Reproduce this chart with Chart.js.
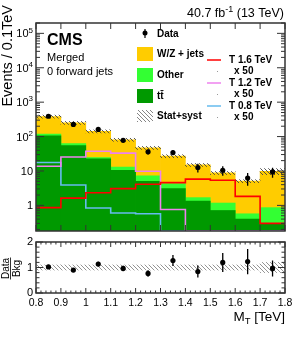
<!DOCTYPE html>
<html>
<head>
<meta charset="utf-8">
<script src="https://cdn.jsdelivr.net/npm/chart.js@4/dist/chart.umd.min.js"></script>
<style>
  body { margin: 0; background: #fff; }
  #wrap { position: relative; width: 299px; height: 337px; }
  canvas { position: absolute; left: 0; }
</style>
</head>
<body>
<div id="wrap">
  <canvas id="main" width="299" height="240" style="top:0;width:299px;height:240px"></canvas>
  <canvas id="ratio" width="299" height="101" style="top:236px;width:299px;height:101px"></canvas>
</div>
<script>
// M_T histogram, merged category, 0 forward jets
// values are events per 0.1 TeV

const binEdges = [0.8, 0.9, 1.0, 1.1, 1.2, 1.3, 1.4, 1.5, 1.6, 1.7, 1.8];
const ttbar = [105, 55, 22.4, 10.5, 5.0, 3.07, 1.33, 0.71, 0.40, 0.30];
const other = [13, 8, 2.1, 2.5, 2.2, 1.23, 0.35, 0.46, 0.17, 0.56];
const wzJets = [264, 187, 117.5, 68, 39.8, 22.7, 13.3, 7.6, 4.5, 8.9];
const dataCounts = [390, 225, 161, 78, 36, 34.4, 12.6, 10.5, 6.25, 9.4];
const bkgRelUnc = [0.1, 0.1, 0.1, 0.1, 0.1, 0.1, 0.1, 0.1, 0.1, 0.2];

// signals, already scaled x50 (0.18 = sits on the bottom of the frame)
const sigT16 = [0.86, 1.63, 2.34, 3.07, 4.1, 4.6, 5.8, 5.4, 1.83, 0.30];
const sigT12 = [13.7, 25.6, 37.5, 33, 9.8, 0.76, 0.18, 0.18, 0.18, 0.18];
const sigT08 = [17.6, 3.9, 0.84, 0.6, 0.57, 0.18, 0.18, 0.18, 0.18, 0.18];

const xTickLabels = ['0.8', '0.9', '1', '1.1', '1.2', '1.3', '1.4', '1.5', '1.6', '1.7', '1.8'];
const yDecades = [0, 1, 2, 3, 4, 5];
const ratioTicks = [0, 1, 2];

const Y_MIN = 0.18, Y_MAX = 2.0e5;

const colors = {
    wz: '#ffcc00',
    other: '#33ff33',
    tt: '#009900',
    t16: '#ff0000',
    t12: '#ee82ee',
    t08: '#66bbee',
    frame: '#333333'
};

const centers = binEdges.slice(0, -1).map((e, i) => (e + binEdges[i + 1]) / 2);
const stackTt = ttbar.slice();
const stackOther = ttbar.map((v, i) => v + other[i]);
const totalBkg = stackOther.map((v, i) => v + wzJets[i]);
const ratio = dataCounts.map((d, i) => d / totalBkg[i]);
const ratioErr = dataCounts.map((d, i) => Math.sqrt(d) / totalBkg[i]);

function hatch(color) {
    const c = document.createElement('canvas');
    c.width = 4; c.height = 4;
    const g = c.getContext('2d');
    g.strokeStyle = color;
    g.lineWidth = 0.9;
    g.beginPath();
    g.moveTo(0, 0); g.lineTo(4, 4);
    g.moveTo(-1, 3); g.lineTo(1, 5);
    g.moveTo(3, -1); g.lineTo(5, 1);
    g.stroke();
    return g.createPattern(c, 'repeat');
}

function stepData(vals) {
    return binEdges.map((e, i) => ({ x: e, y: vals[Math.min(i, vals.length - 1)] }));
}

// text with super/subscript pieces: [[text, size, dy], ...]
function drawPieces(ctx, pieces, x, y, align, bold) {
    const w = pieces.map(p => {
        ctx.font = (bold ? 'bold ' : '') + p[1] + 'px "Liberation Sans", Arial, sans-serif';
        return ctx.measureText(p[0]).width;
    });
    const total = w.reduce((a, b) => a + b, 0);
    let cx = align === 'right' ? x - total : (align === 'center' ? x - total / 2 : x);
    ctx.textAlign = 'left';
    pieces.forEach((p, i) => {
        ctx.font = (bold ? 'bold ' : '') + p[1] + 'px "Liberation Sans", Arial, sans-serif';
        ctx.fillText(p[0], cx, y + (p[2] || 0));
        cx += w[i];
    });
}

function tickLines(ctx, list) {
    ctx.beginPath();
    list.forEach(t => { ctx.moveTo(t[0], t[1]); ctx.lineTo(t[2], t[3]); });
    ctx.stroke();
}

const mainDecor = {
    id: 'mainDecor',
    afterDatasetsDraw(chart) {
        const ctx = chart.ctx, xs = chart.scales.x, ys = chart.scales.y;
        ctx.save();
        ctx.strokeStyle = '#000';
        ctx.lineWidth = 1.3;
        ctx.beginPath();
        centers.forEach((c, i) => {
            const d = dataCounts[i], e = Math.sqrt(d);
            const px = xs.getPixelForValue(c);
            ctx.moveTo(px, ys.getPixelForValue(Math.max(d - e, Y_MIN)));
            ctx.lineTo(px, ys.getPixelForValue(d + e));
        });
        ctx.stroke();
        ctx.restore();
    },
    afterDraw(chart) {
        const ctx = chart.ctx, a = chart.chartArea;
        const xs = chart.scales.x, ys = chart.scales.y;
        ctx.save();
        ctx.strokeStyle = colors.frame;
        ctx.lineWidth = 1;
        const ticks = [];
        binEdges.forEach(v => {
            const px = xs.getPixelForValue(v);
            ticks.push([px, a.bottom, px, a.bottom - 6], [px, a.top, px, a.top + 6]);
        });
        for (let d = -1; d <= 5; d++) {
            for (let m = 1; m <= 9; m++) {
                const v = m * Math.pow(10, d);
                if (v < Y_MIN || v > Y_MAX) continue;
                const py = ys.getPixelForValue(v);
                const len = m === 1 ? 8 : 4;
                ticks.push([a.left, py, a.left + len, py], [a.right, py, a.right - len, py]);
            }
        }
        tickLines(ctx, ticks);
        ctx.lineWidth = 1.5;
        ctx.strokeRect(a.left, a.top, a.right - a.left, a.bottom - a.top);

        // y tick labels
        ctx.fillStyle = '#000';
        ctx.textBaseline = 'middle';
        yDecades.forEach(d => {
            const py = ys.getPixelForValue(Math.pow(10, d));
            if (d === 0) drawPieces(ctx, [['1', 11]], 33, py + 1, 'right');
            else if (d === 1) drawPieces(ctx, [['10', 11]], 33, py + 1, 'right');
            else drawPieces(ctx, [['10', 11], [String(d), 8, -4]], 33, py + 1, 'right');
        });

        // y title
        ctx.save();
        ctx.translate(12, 5);
        ctx.rotate(-Math.PI / 2);
        ctx.textBaseline = 'alphabetic';
        drawPieces(ctx, [['Events / 0.1TeV', 14.5]], 0, 0, 'right');
        ctx.restore();

        // header
        ctx.textBaseline = 'alphabetic';
        drawPieces(ctx, [['40.7 fb', 12.5], ['-1', 9, -5], [' (13 TeV)', 12.5]], 284, 17, 'right');
        drawPieces(ctx, [['CMS', 16]], 47, 45, 'left', true);
        drawPieces(ctx, [['Merged', 11]], 47, 61, 'left');
        drawPieces(ctx, [['0 forward jets', 11]], 47, 75, 'left');

        // legend, left column
        ctx.textBaseline = 'middle';
        ctx.fillStyle = '#000';
        ctx.beginPath();
        ctx.arc(145, 33, 2.5, 0, Math.PI * 2);
        ctx.fill();
        ctx.strokeStyle = '#000';
        ctx.lineWidth = 1.2;
        tickLines(ctx, [[145, 29, 145, 38]]);
        const boxes = [['W/Z + jets', colors.wz, 54], ['Other', colors.other, 75], ['t' + 't\u0304', colors.tt, 96]];
        boxes.forEach(b => {
            ctx.fillStyle = b[1];
            ctx.fillRect(137, b[2] - 7, 16, 14);
        });
        ctx.fillStyle = hatch('#777');
        ctx.fillRect(137, 110, 16, 12);
        ctx.fillStyle = '#000';
        drawPieces(ctx, [['Data', 10]], 157, 34, 'left', true);
        boxes.forEach(b => drawPieces(ctx, [[b[0], 10]], 157, b[2], 'left', true));
        drawPieces(ctx, [['Stat+syst', 10]], 157, 116, 'left', true);

        // legend, right column
        const sigs = [['T 1.6 TeV', colors.t16, 60], ['T 1.2 TeV', colors.t12, 83], ['T 0.8 TeV', colors.t08, 106]];
        sigs.forEach(s => {
            ctx.strokeStyle = s[1];
            ctx.lineWidth = 1.5;
            tickLines(ctx, [[207, s[2], 221, s[2]]]);
            ctx.fillStyle = '#000';
            drawPieces(ctx, [[s[0], 10]], 229, s[2], 'left', true);
            drawPieces(ctx, [['x 50', 10]], 234, s[2] + 11, 'left', true);
            ctx.fillStyle = '#999';
            ctx.fillRect(217, s[2] + 11, 1, 1);
        });
        ctx.restore();
    }
};

const ratioDecor = {
    id: 'ratioDecor',
    afterDatasetsDraw(chart) {
        const ctx = chart.ctx, xs = chart.scales.x, ys = chart.scales.y;
        ctx.save();
        ctx.strokeStyle = '#000';
        ctx.lineWidth = 1.3;
        ctx.beginPath();
        centers.forEach((c, i) => {
            const px = xs.getPixelForValue(c);
            ctx.moveTo(px, ys.getPixelForValue(ratio[i] - ratioErr[i]));
            ctx.lineTo(px, ys.getPixelForValue(ratio[i] + ratioErr[i]));
        });
        ctx.stroke();
        ctx.restore();
    },
    afterDraw(chart) {
        const ctx = chart.ctx, a = chart.chartArea;
        const xs = chart.scales.x, ys = chart.scales.y;
        ctx.save();
        ctx.strokeStyle = colors.frame;
        ctx.lineWidth = 1;
        const ticks = [];
        for (let k = 0; k <= 50; k++) {
            const px = xs.getPixelForValue(0.8 + k * 0.02);
            const len = k % 5 === 0 ? 5 : 2.5;
            ticks.push([px, a.bottom, px, a.bottom - len], [px, a.top, px, a.top + len]);
        }
        for (let k = 0; k <= 10; k++) {
            const py = ys.getPixelForValue(k * 0.2);
            const len = k % 5 === 0 ? 7 : 3.5;
            ticks.push([a.left, py, a.left + len, py], [a.right, py, a.right - len, py]);
        }
        tickLines(ctx, ticks);
        ctx.lineWidth = 1.5;
        ctx.strokeRect(a.left, a.top, a.right - a.left, a.bottom - a.top);

        ctx.fillStyle = '#000';
        ctx.textBaseline = 'middle';
        ratioTicks.forEach(v => {
            drawPieces(ctx, [[String(v), 11]], 33, ys.getPixelForValue(v), 'right');
        });
        ctx.textBaseline = 'alphabetic';
        binEdges.forEach((v, i) => {
            drawPieces(ctx, [[xTickLabels[i], 10.5]], xs.getPixelForValue(v), a.bottom + 13, 'center');
        });
        drawPieces(ctx, [['M', 13.5], ['T', 9.5, 3], [' [TeV]', 13.5]], 285, a.bottom + 28, 'right');

        // Data / Bkg
        ctx.save();
        ctx.translate(10.5, (a.top + a.bottom) / 2 + 1);
        ctx.rotate(-Math.PI / 2);
        ctx.textBaseline = 'alphabetic';
        drawPieces(ctx, [['Data', 10]], 0, -2, 'center');
        ctx.textBaseline = 'top';
        drawPieces(ctx, [['Bkg', 10]], 0, 1.5, 'center');
        ctx.strokeStyle = '#000';
        ctx.lineWidth = 0.8;
        tickLines(ctx, [[-11, 0, 11, 0]]);
        ctx.restore();
        ctx.restore();
    }
};

const bandMain = hatch('#444');
const bandRatio = hatch('#888');

new Chart(document.getElementById('main'), {
    type: 'bar',
    data: {
        datasets: [
            { label: 'W/Z + jets', data: centers.map((c, i) => ({ x: c, y: totalBkg[i] })), backgroundColor: colors.wz, order: 10 },
            { label: 'Other', data: centers.map((c, i) => ({ x: c, y: stackOther[i] })), backgroundColor: colors.other, order: 9 },
            { label: 'tt', data: centers.map((c, i) => ({ x: c, y: stackTt[i] })), backgroundColor: colors.tt, order: 8 },
            { label: 'Stat+syst', data: centers.map((c, i) => ({ x: c, y: [totalBkg[i] * (1 - bkgRelUnc[i]), totalBkg[i] * (1 + bkgRelUnc[i])] })), backgroundColor: bandMain, order: 7 },
            { type: 'line', label: 'T 0.8 TeV', data: stepData(sigT08), borderColor: colors.t08, stepped: 'before', order: 5 },
            { type: 'line', label: 'T 1.2 TeV', data: stepData(sigT12), borderColor: colors.t12, stepped: 'before', order: 4 },
            { type: 'line', label: 'T 1.6 TeV', data: stepData(sigT16), borderColor: colors.t16, stepped: 'before', order: 3 },
            { type: 'line', label: 'Data', data: centers.map((c, i) => ({ x: c, y: dataCounts[i] })), showLine: false, pointRadius: 2.6, pointBackgroundColor: '#000', pointBorderWidth: 0, order: 0 }
        ]
    },
    options: {
        responsive: false,
        animation: false,
        events: [],
        layout: { padding: { left: 36, right: 14, top: 23, bottom: 9 } },
        datasets: {
            bar: { grouped: false, barPercentage: 1, categoryPercentage: 1, borderWidth: 0 },
            line: { borderWidth: 1.6, pointRadius: 0, fill: false }
        },
        plugins: { legend: { display: false }, tooltip: { enabled: false } },
        scales: {
            x: { type: 'linear', min: 0.8, max: 1.8, offset: false, display: false },
            y: { type: 'logarithmic', min: Y_MIN, max: Y_MAX, display: false }
        }
    },
    plugins: [mainDecor]
});

new Chart(document.getElementById('ratio'), {
    type: 'bar',
    data: {
        datasets: [
            { label: 'Stat+syst', data: centers.map((c, i) => ({ x: c, y: [1 - bkgRelUnc[i], 1 + bkgRelUnc[i]] })), backgroundColor: bandRatio, order: 5 },
            { type: 'line', label: 'Data/Bkg', data: centers.map((c, i) => ({ x: c, y: ratio[i] })), showLine: false, pointRadius: 2.6, pointBackgroundColor: '#000', pointBorderWidth: 0, order: 0 }
        ]
    },
    options: {
        responsive: false,
        animation: false,
        events: [],
        layout: { padding: { left: 36, right: 14, top: 6, bottom: 44 } },
        datasets: {
            bar: { grouped: false, barPercentage: 1, categoryPercentage: 1, borderWidth: 0 }
        },
        plugins: { legend: { display: false }, tooltip: { enabled: false } },
        scales: {
            x: { type: 'linear', min: 0.8, max: 1.8, offset: false, display: false },
            y: { type: 'linear', min: 0, max: 2, display: false }
        }
    },
    plugins: [ratioDecor]
});
</script>
</body>
</html>
